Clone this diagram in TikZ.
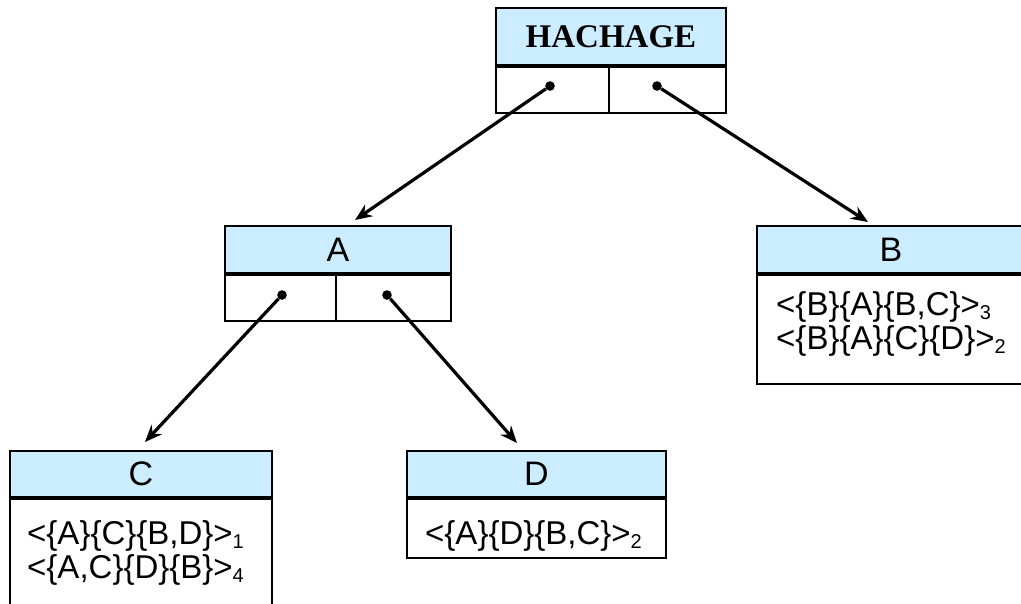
\documentclass[tikz,border=0pt]{standalone}
\usepackage{fontspec}
\setmainfont{Liberation Sans}
\newfontfamily\hashfont{Liberation Serif}
\usetikzlibrary{arrows.meta,positioning}
\definecolor{headblue}{RGB}{204,236,255}
\newcommand{\idx}[1]{\raisebox{-4pt}{\fontsize{20}{20}\selectfont #1}}
\tikzset{
  head/.style={draw,fill=headblue,inner sep=0pt,line width=1.8pt,font=\fontsize{34}{37}\selectfont},
  cell/.style={draw,inner sep=0pt,line width=1.8pt,minimum height=46pt},
  body/.style={draw,inner sep=0pt,line width=1.8pt,anchor=north},
  entry/.style={anchor=west,inner sep=0pt,font=\fontsize{33}{36}\selectfont},
  ptr/.style={circle,fill,inner sep=3.4pt}
}

\begin{document}
\begin{tikzpicture}[x=1pt,y=-1pt,>={Stealth[length=17pt,width=14pt]}]
  \useasboundingbox (0,0) rectangle (1021,603);

  % root table
  \node[head,minimum width=230pt,minimum height=57pt] (hroot) at (611,36.5)
    {\hashfont\bfseries\fontsize{33}{36}\selectfont HACHAGE};
  \node[cell,minimum width=113pt,anchor=north west] (rl) at (hroot.south west) {};
  \node[cell,minimum width=117pt,anchor=north east] (rr) at (hroot.south east) {};
  \node[ptr] (pr1) at (550,86) {};
  \node[ptr] (pr2) at (657,86) {};

  % bucket A
  \node[head,minimum width=226pt,minimum height=47pt] (hA) at (338,249.5) {A};
  \node[cell,minimum width=111pt,anchor=north west] (al) at (hA.south west) {};
  \node[cell,minimum width=115pt,anchor=north east] (ar) at (hA.south east) {};
  \node[ptr] (pa1) at (282,295) {};
  \node[ptr] (pa2) at (387,295) {};

  % bucket B
  \node[head,minimum width=268pt,minimum height=47pt] (hB) at (891,249.5) {B};
  \node[body,minimum width=268pt,minimum height=109pt] (bB) at (hB.south) {};
  \node[entry] (b1) at (776,307) {<\{B\}\{A\}\{B,C\}>\idx{3}};
  \node[entry] (b2) at (776,341) {<\{B\}\{A\}\{C\}\{D\}>\idx{2}};

  % bucket C
  \node[head,minimum width=262pt,minimum height=46pt] (hC) at (141,474) {C};
  \node[body,minimum width=262pt,minimum height=130pt] (bC) at (hC.south) {};
  \node[entry] (c1) at (27,536) {<\{A\}\{C\}\{B,D\}>\idx{1}};
  \node[entry] (c2) at (27,570) {<\{A,C\}\{D\}\{B\}>\idx{4}};

  % bucket D
  \node[head,minimum width=259pt,minimum height=46pt] (hD) at (536.5,474) {D};
  \node[body,minimum width=259pt,minimum height=59pt] (bD) at (hD.south) {};
  \node[entry] (d1) at (425,536) {<\{A\}\{D\}\{B,C\}>\idx{2}};

  % pointer targets
  \coordinate (tA) at (355,220);
  \coordinate (tB) at (868,222);
  \coordinate (tC) at (145,442);
  \coordinate (tD) at (517,443);

  \draw[->,line width=3.2pt] (pr1) -- (tA);
  \draw[->,line width=3.2pt] (pr2) -- (tB);
  \draw[->,line width=3.2pt] (pa1) -- (tC);
  \draw[->,line width=3.2pt] (pa2) -- (tD);
\end{tikzpicture}
\end{document}
